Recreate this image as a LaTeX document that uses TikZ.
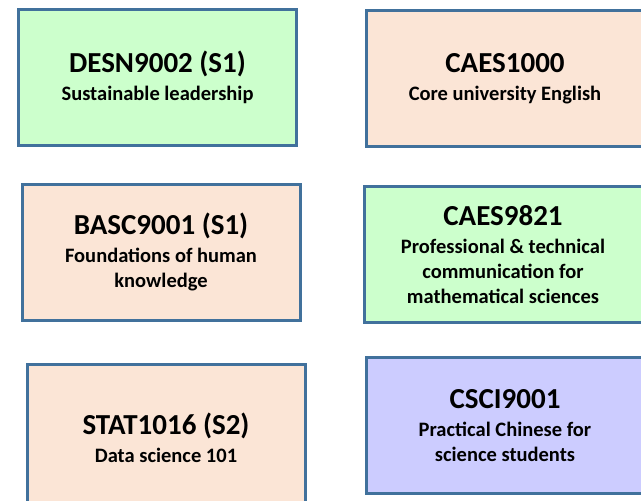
\documentclass[tikz,border=0pt]{standalone}
\usepackage{fontspec}
\setmainfont{Carlito}
\usetikzlibrary{positioning}
\definecolor{boxline}{RGB}{65,113,156}
\definecolor{corefill}{RGB}{204,255,204}
\definecolor{reqfill}{RGB}{251,229,214}
\definecolor{langfill}{RGB}{204,204,255}
\newcommand{\ctitle}[1]{{\fontsize{29}{30}\selectfont #1}\\[3pt]}
\tikzset{
  course/.style = {shape=rectangle, draw=boxline, line width=3pt,
                   align=center, inner sep=2pt,
                   minimum width=278pt, minimum height=136pt,
                   font=\bfseries\fontsize{20.5}{25}\selectfont},
  green/.style  = {course, fill=corefill},
  peach/.style  = {course, fill=reqfill},
  lilac/.style  = {course, fill=langfill}
}

\begin{document}
\begin{tikzpicture}[x=1pt,y=-1pt]
\clip (0,0) rectangle (641,501);
\fill[white] (0,0) rectangle (641,501);
\node [green] (desn) at (157.5,77) {\ctitle{DESN9002 (S1)}Sustainable leadership};
\node [peach] (caesa) at (505,78.5) {\ctitle{CAES1000}Core university English};
\node [peach] (basc) at (161,252) {\ctitle{BASC9001 (S1)}Foundations of human\\knowledge};
\node [green] (caesb) at (503,254.5) {\ctitle{CAES9821}Professional \& technical\\communication for\\mathematical sciences};
\node [peach, minimum height=148pt] (stat) at (166,438) {\ctitle{STAT1016 (S2)}Data science 101};
\node [lilac] (csci) at (505,425.5) {\ctitle{CSCI9001}Practical Chinese for\\science students};
\end{tikzpicture}
\end{document}
